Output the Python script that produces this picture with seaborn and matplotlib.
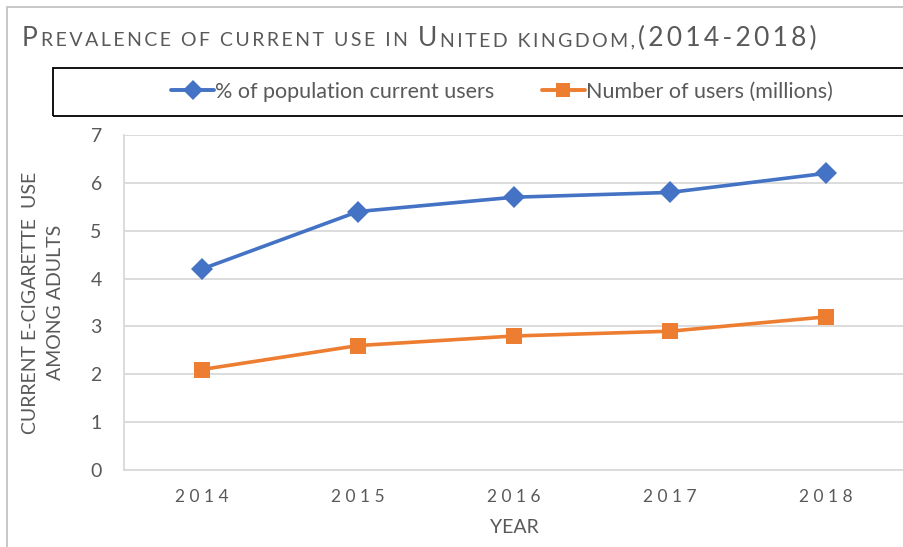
import numpy as np
import pandas as pd
import matplotlib
matplotlib.use('Agg')
import matplotlib.pyplot as plt
import seaborn as sns
from matplotlib.patches import Rectangle
from matplotlib.lines import Line2D

# data
years = [2014, 2015, 2016, 2017, 2018]
pct_users = [4.2, 5.4, 5.7, 5.8, 6.2]
num_users = [2.1, 2.6, 2.8, 2.9, 3.2]
series_names = ['% of population current users', 'Number of users (millions)']

sns.set_style('white')
plt.rcParams['font.family'] = ['Lato', 'DejaVu Sans']

df = pd.DataFrame({
    'year': years * 2,
    'value': pct_users + num_users,
    'series': [series_names[0]] * len(years) + [series_names[1]] * len(years),
})

blue = '#4472C4'
orange = '#ED7D31'
grey_txt = '#595959'

fig = plt.figure(figsize=(9.04, 5.47), dpi=100)
ax = fig.add_axes([124 / 904, 1 - 470 / 547, 1 - 124 / 904, (470 - 135) / 547])

sns.lineplot(data=df, x='year', y='value', hue='series', style='series',
             palette=[blue, orange], markers=['D', 's'], dashes=False,
             markersize=11, linewidth=2.6, markeredgewidth=0, ax=ax, legend=False)

ax.set_xlim(2013.5, 2018.5)
ax.set_ylim(0, 7)
ax.set_yticks(range(0, 8))
ax.set_xticks(years)
ax.set_xticklabels([' '.join(str(y)) for y in years], fontsize=12.5)
ax.tick_params(axis='x', colors=grey_txt, length=0, pad=14)
ax.tick_params(axis='y', colors=grey_txt, length=0, pad=16, labelsize=14)
ax.grid(axis='y', color='#D9D9D9', linewidth=1.3)
for s in ['top', 'right']:
    ax.spines[s].set_visible(False)
for s in ['left', 'bottom']:
    ax.spines[s].set_color('#D9D9D9')
    ax.spines[s].set_linewidth(1.3)

ax.set_xlabel('YEAR', color=grey_txt, fontsize=14, labelpad=10)
ax.set_ylabel('CURRENT E-CIGARETTE  USE\nAMONG ADULTS', color=grey_txt, fontsize=14,
              linespacing=1.6)
ax.yaxis.set_label_coords(-0.077, 0.5)

# figure border (left and top only visible in crop)
fig.patches.append(Rectangle((7 / 904, -0.01), 2, 1.0 - 7 / 547 + 0.01,
                             transform=fig.transFigure, fill=False,
                             edgecolor='#BFBFBF', linewidth=1.2))

# small-caps style title
pieces = [('P', 19), ('REVALENCE OF CURRENT USE IN ', 14), ('U', 19),
          ('NITED KINGDOM,', 14), ('(2014-2018)', 19)]
renderer = fig.canvas.get_renderer()
x = 22 / 904
for txt, fs in pieces:
    # widen letter spacing with thin spaces
    spaced = '\u2009'.join(txt)
    t = fig.text(x, 1 - 46 / 547, spaced, fontsize=fs, color=grey_txt,
                 ha='left', va='baseline')
    bb = t.get_window_extent(renderer=renderer)
    x += bb.width / fig.bbox.width + 3 / 904

# legend: frame drawn by hand so it runs off the right edge like the original
fig.patches.append(Rectangle((53 / 904, 1 - 116 / 547), 900 / 904, 48 / 547,
                             transform=fig.transFigure, fill=False,
                             edgecolor='black', linewidth=1.3))
handles = [Line2D([], [], color=blue, marker='D', markersize=10, linewidth=2.8, markeredgewidth=0),
           Line2D([], [], color=orange, marker='s', markersize=10, linewidth=2.8, markeredgewidth=0)]
leg = fig.legend(handles, series_names, loc='center',
                 bbox_to_anchor=(502 / 904, 1 - 92 / 547), ncol=2, frameon=False,
                 fontsize=15.5, handlelength=2.0, handletextpad=0.05,
                 columnspacing=2.2)
for t in leg.get_texts():
    t.set_color(grey_txt)

fig.savefig('out.png', dpi=100)
